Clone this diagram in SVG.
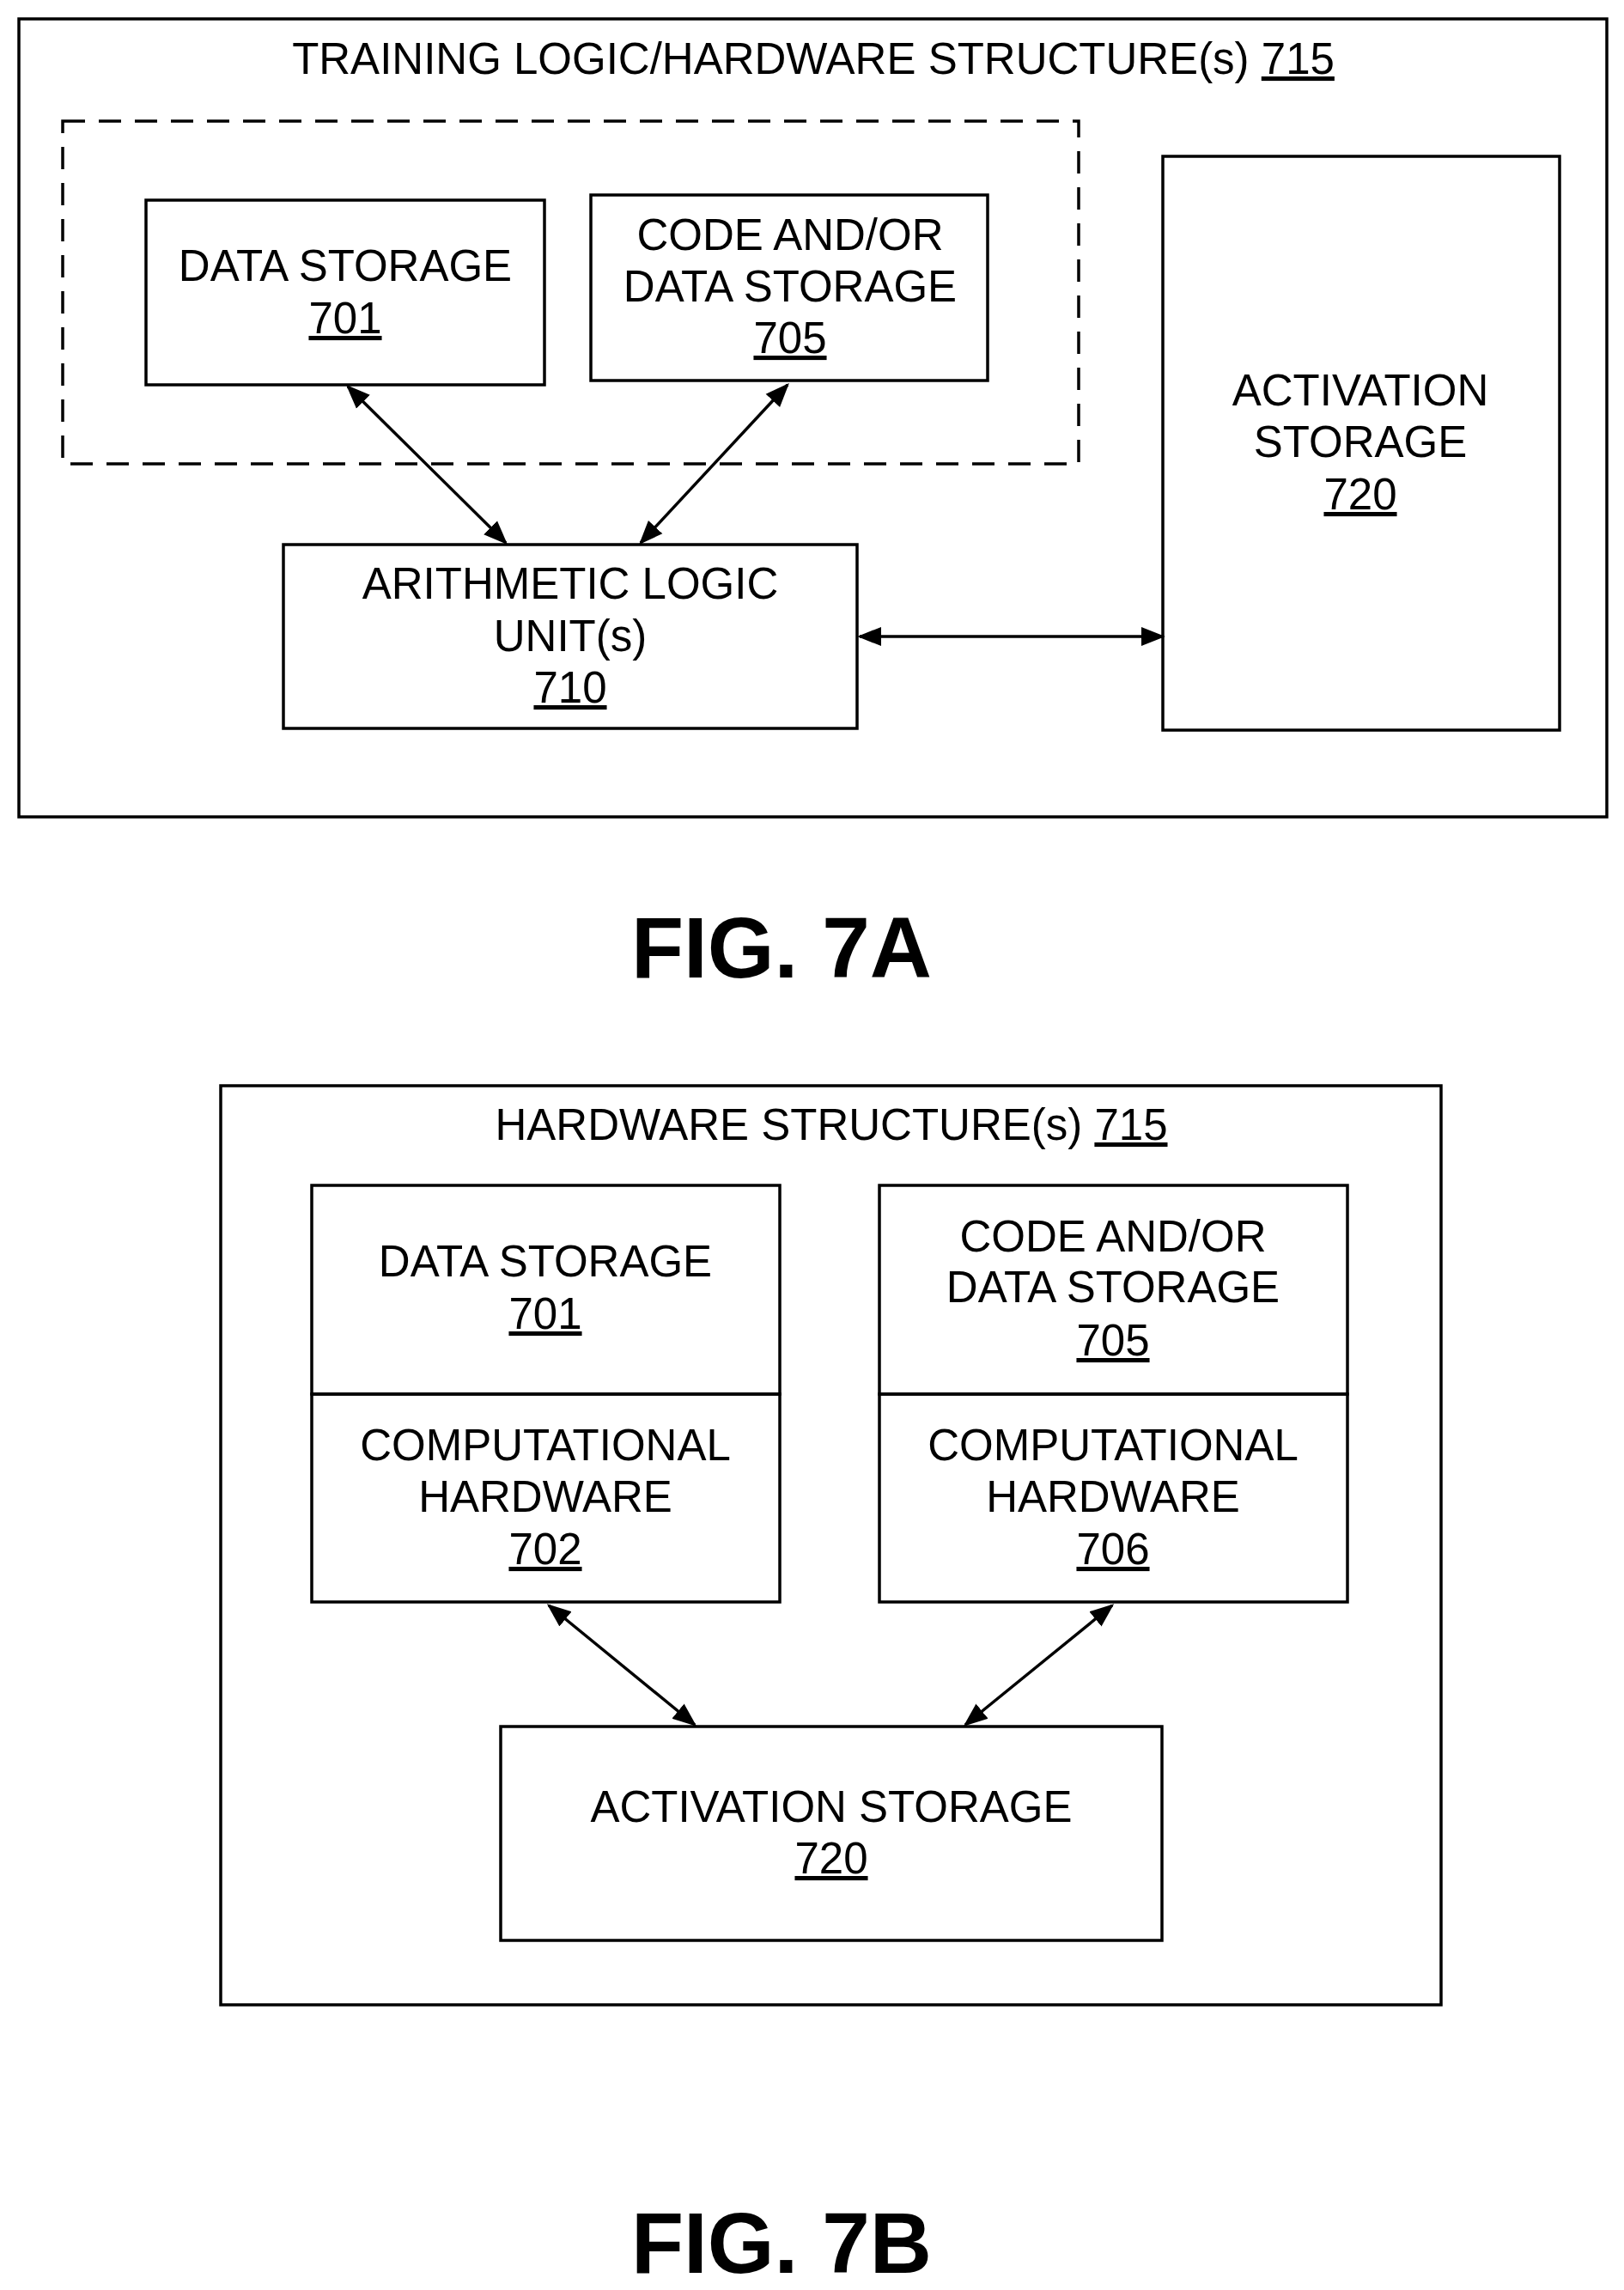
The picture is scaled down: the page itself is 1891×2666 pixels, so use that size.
<svg xmlns="http://www.w3.org/2000/svg" width="1891" height="2666" viewBox="0 0 1891 2666">
<style>
.b{fill:none;stroke:#000;stroke-width:3.5}
.t{font-family:"Liberation Sans",Arial,sans-serif;font-size:51px;text-anchor:middle;fill:#000}
.u{text-decoration:underline}
.f{font-family:"Liberation Sans",Arial,sans-serif;font-size:100px;font-weight:bold;text-anchor:middle}
.c{stroke:#000;stroke-width:3.5;fill:none;marker-start:url(#m);marker-end:url(#m)}
</style>
<defs>
<marker id="m" viewBox="0 0 10 10" refX="9" refY="5" markerWidth="28" markerHeight="28" markerUnits="userSpaceOnUse" orient="auto-start-reverse"><path d="M0,1L10,5L0,9z"/></marker></defs>
<g id="fig7a">
<rect class="b" x="22" y="22" width="1849" height="929"/>
<text class="t" x="947" y="86">TRAINING LOGIC/HARDWARE STRUCTURE(s) <tspan class="u">715</tspan></text>
<rect x="73" y="141" width="1183" height="399" fill="none" stroke="#000" stroke-width="3.5" stroke-dasharray="26,16"/>
</g>
<g id="n701a"><rect class="b" x="170" y="233" width="464" height="215"/><text class="t" x="402" y="327">DATA STORAGE</text><text class="t u" x="402" y="388">701</text></g>
<g id="n705a"><rect class="b" x="688" y="227" width="462" height="216"/><text class="t" x="920" y="291">CODE AND/OR</text><text class="t" x="920" y="351">DATA STORAGE</text><text class="t u" x="920" y="411">705</text></g>
<g id="n720a"><rect class="b" x="1354" y="182" width="462" height="668"/><text class="t" x="1584" y="472">ACTIVATION</text><text class="t" x="1584" y="532">STORAGE</text><text class="t u" x="1584" y="593">720</text></g>
<g id="n710"><rect class="b" x="330" y="634" width="668" height="214"/><text class="t" x="664" y="697">ARITHMETIC LOGIC</text><text class="t" x="664" y="758">UNIT(s)</text><text class="t u" x="664" y="818">710</text></g>
<text class="f" x="910" y="1138">FIG. 7A</text>
<g id="fig7b">
<rect class="b" x="257" y="1264" width="1421" height="1070"/>
<text class="t" x="968" y="1327">HARDWARE STRUCTURE(s) <tspan class="u">715</tspan></text>
</g>
<g id="n701b"><rect class="b" x="363" y="1380" width="545" height="243"/><text class="t" x="635" y="1486">DATA STORAGE</text><text class="t u" x="635" y="1547">701</text></g>
<g id="n702"><rect class="b" x="363" y="1623" width="545" height="242"/><text class="t" x="635" y="1700">COMPUTATIONAL</text><text class="t" x="635" y="1760">HARDWARE</text><text class="t u" x="635" y="1821">702</text></g>
<g id="n705b"><rect class="b" x="1024" y="1380" width="545" height="243"/><text class="t" x="1296" y="1457">CODE AND/OR</text><text class="t" x="1296" y="1516">DATA STORAGE</text><text class="t u" x="1296" y="1578">705</text></g>
<g id="n706"><rect class="b" x="1024" y="1623" width="545" height="242"/><text class="t" x="1296" y="1700">COMPUTATIONAL</text><text class="t" x="1296" y="1760">HARDWARE</text><text class="t u" x="1296" y="1821">706</text></g>
<g id="n720b"><rect class="b" x="583" y="2010" width="770" height="249"/><text class="t" x="968" y="2121">ACTIVATION STORAGE</text><text class="t u" x="968" y="2181">720</text></g>
<text class="f" x="910" y="2646">FIG. 7B</text>
<g id="connectors">
<line class="c" x1="405" y1="450" x2="589" y2="632"/>
<line class="c" x1="917" y1="448" x2="746" y2="632"/>
<line class="c" x1="1001" y1="741" x2="1354" y2="741"/>
<line class="c" x1="639" y1="1869" x2="809" y2="2008"/>
<line class="c" x1="1295" y1="1869" x2="1124" y2="2008"/>
</g>
</svg>
